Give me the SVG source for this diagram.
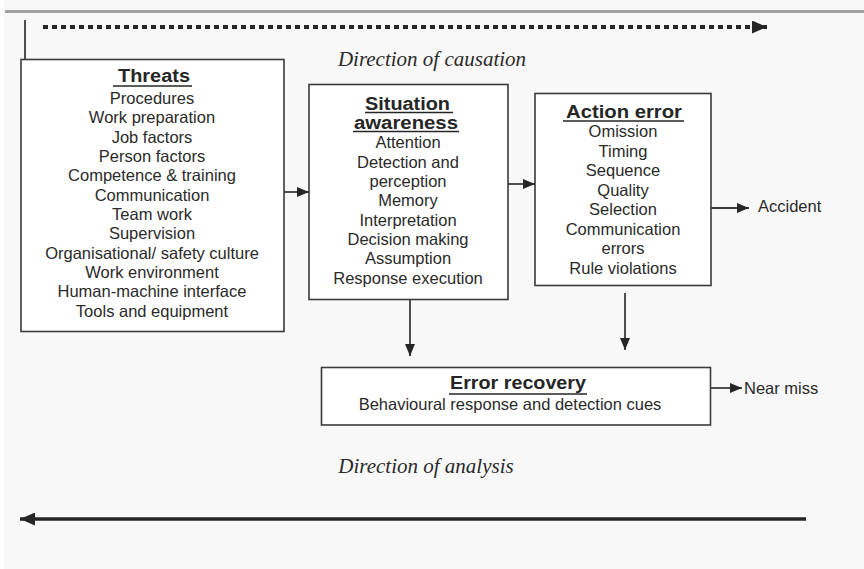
<svg xmlns="http://www.w3.org/2000/svg" width="864" height="569" viewBox="0 0 864 569">
  <style>
    .box { fill: #ffffff; stroke: #3a3a3a; stroke-width: 1.6; }
    .title { font-family: "Liberation Sans", Arial, sans-serif; font-weight: bold; font-size: 18px; fill: #262626; text-anchor: middle; }
    .uline { stroke: #262626; stroke-width: 1.5; }
    .item { font-family: "Liberation Sans", Arial, sans-serif; font-size: 16.5px; fill: #2a2a2a; text-anchor: middle; }
    .label { font-family: "Liberation Sans", Arial, sans-serif; font-size: 16.5px; fill: #2a2a2a; }
    .dir { font-family: "Liberation Serif", "Times New Roman", serif; font-style: italic; font-size: 21px; fill: #2a2a2a; text-anchor: middle; }
    .conn { fill: none; stroke: #3a3a3a; stroke-width: 1.8; }
  </style>
  <defs>
    <marker id="head" markerUnits="userSpaceOnUse" markerWidth="12" markerHeight="10" refX="12" refY="5" orient="auto">
      <path d="M0,0 L12,5 L0,10 Z" fill="#262626"/>
    </marker>
    <marker id="headBig" markerUnits="userSpaceOnUse" markerWidth="15" markerHeight="13" refX="15" refY="6.5" orient="auto">
      <path d="M0,0 L15,6.5 L0,13 Z" fill="#262626"/>
    </marker>
  </defs>

  <!-- page background and top rule -->
  <rect x="0" y="0" width="864" height="569" fill="#f8f8f8"/>
  <rect x="0" y="0" width="4" height="569" fill="#ffffff"/>
  <rect x="5" y="10" width="859" height="3" fill="#a2a2a2"/>

  <!-- causation / analysis direction indicators -->
  <g id="causation">
    <path d="M25,20 V59" class="conn"/>
    <path d="M43,27 H767" fill="none" stroke="#262626" stroke-width="4" stroke-dasharray="5 4" marker-end="url(#headBig)"/>
    <text class="dir" x="432" y="66">Direction of causation</text>
  </g>
  <g id="analysis">
    <text class="dir" x="426" y="473">Direction of analysis</text>
    <path d="M806,519 H20" fill="none" stroke="#262626" stroke-width="3.5" marker-end="url(#headBig)"/>
  </g>

  <!-- nodes -->
  <g id="threats">
    <rect class="box" x="21" y="59.5" width="263" height="272"/>
    <text class="title" x="154" y="82" textLength="72" lengthAdjust="spacingAndGlyphs">Threats</text>
    <line class="uline" x1="113" y1="86" x2="192" y2="86"/>
    <text class="item" x="152" y="104">Procedures</text>
    <text class="item" x="152" y="123.3">Work preparation</text>
    <text class="item" x="152" y="142.7">Job factors</text>
    <text class="item" x="152" y="162">Person factors</text>
    <text class="item" x="152" y="181.3">Competence &amp; training</text>
    <text class="item" x="152" y="200.7">Communication</text>
    <text class="item" x="152" y="220">Team work</text>
    <text class="item" x="152" y="239.3">Supervision</text>
    <text class="item" x="152" y="258.7">Organisational/ safety culture</text>
    <text class="item" x="152" y="278">Work environment</text>
    <text class="item" x="152" y="297.3">Human-machine interface</text>
    <text class="item" x="152" y="316.7">Tools and equipment</text>
  </g>

  <g id="situation-awareness">
    <rect class="box" x="309" y="84.5" width="199" height="215"/>
    <text class="title" x="407.5" y="110" textLength="85" lengthAdjust="spacingAndGlyphs">Situation</text>
    <line class="uline" x1="365" y1="112.5" x2="453" y2="112.5"/>
    <text class="title" x="406" y="129" textLength="104" lengthAdjust="spacingAndGlyphs">awareness</text>
    <line class="uline" x1="353" y1="131.5" x2="459" y2="131.5"/>
    <text class="item" x="408" y="148.3">Attention</text>
    <text class="item" x="408" y="167.7">Detection and</text>
    <text class="item" x="408" y="187">perception</text>
    <text class="item" x="408" y="206.3">Memory</text>
    <text class="item" x="408" y="225.7">Interpretation</text>
    <text class="item" x="408" y="245">Decision making</text>
    <text class="item" x="408" y="264.3">Assumption</text>
    <text class="item" x="408" y="283.7">Response execution</text>
  </g>

  <g id="action-error">
    <rect class="box" x="535" y="93.5" width="176" height="192"/>
    <text class="title" x="624" y="117.7" textLength="116" lengthAdjust="spacingAndGlyphs">Action error</text>
    <line class="uline" x1="563" y1="121" x2="684" y2="121"/>
    <text class="item" x="623" y="137.3">Omission</text>
    <text class="item" x="623" y="156.8">Timing</text>
    <text class="item" x="623" y="176.3">Sequence</text>
    <text class="item" x="623" y="195.8">Quality</text>
    <text class="item" x="623" y="215.3">Selection</text>
    <text class="item" x="623" y="234.8">Communication</text>
    <text class="item" x="623" y="254.3">errors</text>
    <text class="item" x="623" y="273.8">Rule violations</text>
  </g>

  <g id="error-recovery">
    <rect class="box" x="321.5" y="367.5" width="389" height="57.5"/>
    <text class="title" x="518" y="389" textLength="136" lengthAdjust="spacingAndGlyphs">Error recovery</text>
    <line class="uline" x1="449" y1="394" x2="587" y2="394"/>
    <text class="item" x="510" y="410">Behavioural response and detection cues</text>
  </g>

  <g id="accident">
    <text class="label" x="758" y="212">Accident</text>
  </g>

  <g id="near-miss">
    <text class="label" x="744" y="394">Near miss</text>
  </g>

  <!-- connectors -->
  <g id="connectors">
    <path class="conn" d="M284,192 H309" marker-end="url(#head)"/>
    <path class="conn" d="M508,184 H535" marker-end="url(#head)"/>
    <path class="conn" d="M711,208 H749" marker-end="url(#head)"/>
    <path class="conn" d="M410,300 V356" marker-end="url(#head)"/>
    <path class="conn" d="M625,293 V350" marker-end="url(#head)"/>
    <path class="conn" d="M711,388 H742" marker-end="url(#head)"/>
  </g>
</svg>
